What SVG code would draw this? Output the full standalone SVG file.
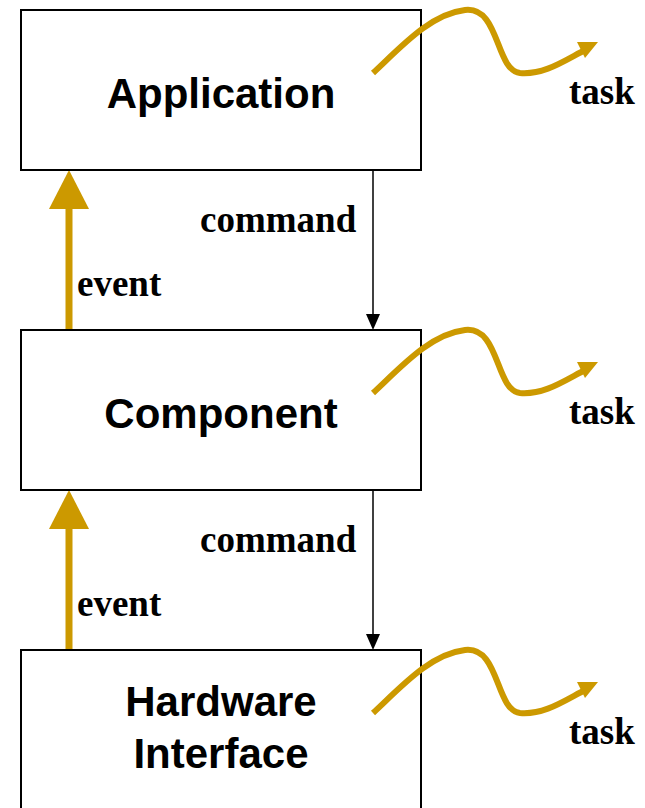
<svg xmlns="http://www.w3.org/2000/svg" xmlns:xlink="http://www.w3.org/1999/xlink" width="645" height="808" viewBox="0 0 645 808">
<style>
.box{fill:#fff;stroke:#000;stroke-width:2}
.lbl{font-family:"Liberation Sans",Arial,sans-serif;font-weight:bold;font-size:42px;text-anchor:middle;fill:#000}
.tl{font-family:"Liberation Serif","Times New Roman",serif;font-weight:bold;font-size:37px;fill:#000}
.sq{fill:none;stroke:#cc9900;stroke-width:6}
.gold{fill:#cc9900}
.cmd{stroke:#000;stroke-width:1.5}
</style>
<defs>
<g id="squig">
<path class="sq" d="M373,73 C400,48 430,14 465,10 C500,6 495,70 520,73 C545,75 565,60 587,49"/>
<polygon class="gold" points="598,42 577,42 585,58"/>
</g>
<g id="evt">
<rect class="gold" x="65.5" y="205" width="7" height="125"/>
<polygon class="gold" points="69,170 49,209 89,209"/>
</g>
<g id="cmdArrow">
<line class="cmd" x1="373" y1="170" x2="373" y2="316"/>
<polygon points="373,330 366,314 380,314"/>
</g>
</defs>
<g id="connectors">
<use xlink:href="#evt"/>
<use xlink:href="#evt" y="320"/>
<use xlink:href="#cmdArrow"/>
<use xlink:href="#cmdArrow" y="320"/>
<text class="tl" x="200" y="232">command</text>
<text class="tl" x="200" y="552">command</text>
<text class="tl" x="77" y="296">event</text>
<text class="tl" x="77" y="616">event</text>
</g>
<g id="application">
<rect class="box" x="21" y="10" width="400" height="160"/>
<text class="lbl" x="221" y="108">Application</text>
</g>
<g id="component">
<rect class="box" x="21" y="330" width="400" height="160"/>
<text class="lbl" x="221" y="428">Component</text>
</g>
<g id="hardware">
<rect class="box" x="21" y="650" width="400" height="170"/>
<text class="lbl" x="221" y="716">Hardware</text>
<text class="lbl" x="221" y="768">Interface</text>
</g>
<g id="tasks">
<use xlink:href="#squig"/>
<use xlink:href="#squig" y="320"/>
<use xlink:href="#squig" y="640"/>
<text class="tl" x="569" y="104">task</text>
<text class="tl" x="569" y="424">task</text>
<text class="tl" x="569" y="744">task</text>
</g>
</svg>
